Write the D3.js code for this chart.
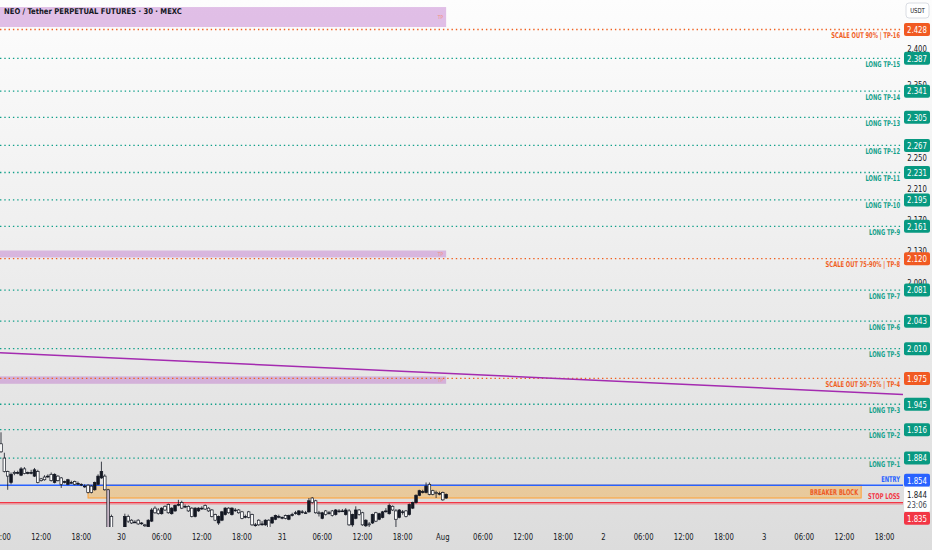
<!DOCTYPE html>
<html>
<head>
<meta charset="utf-8">
<style>
  html, body { margin: 0; padding: 0; background: #fff; }
  svg { display: block; }
  text { font-family: "DejaVu Sans Condensed", "Liberation Sans", sans-serif; }
</style>
<script src="https://cdn.jsdelivr.net/npm/d3@7"></script>
</head>
<body>
<svg id="chart" width="932" height="550"></svg>
<script>
// ---- data ----
const title = "NEO / Tether PERPETUAL FUTURES · 30 · MEXC";
const firstBar = Date.UTC(2025, 6, 29, 6, 0); // 30 min bars
const barMinutes = 30;

// open, high, low, close
const ohlc = [
  [1.900,1.913,1.890,1.891],[1.884,1.890,1.868,1.869],[1.869,1.870,1.849,1.864],[1.857,1.868,1.855,1.866],
  [1.868,1.870,1.865,1.867],[1.868,1.870,1.866,1.868],[1.865,1.874,1.864,1.872],[1.872,1.874,1.866,1.867],
  [1.867,1.869,1.866,1.868],[1.868,1.871,1.866,1.868],[1.864,1.873,1.863,1.871],[1.869,1.871,1.856,1.857],
  [1.861,1.862,1.858,1.859],[1.863,1.865,1.859,1.860],[1.864,1.866,1.862,1.864],[1.866,1.868,1.858,1.859],
  [1.857,1.867,1.856,1.866],[1.864,1.865,1.858,1.859],[1.862,1.863,1.851,1.855],[1.858,1.859,1.856,1.858],
  [1.855,1.861,1.854,1.860],[1.857,1.859,1.856,1.857],[1.858,1.859,1.854,1.855],[1.856,1.858,1.854,1.856],
  [1.855,1.856,1.853,1.855],[1.853,1.855,1.851,1.853],[1.854,1.855,1.845,1.846],[1.853,1.854,1.845,1.846],
  [1.849,1.858,1.848,1.857],[1.855,1.866,1.854,1.864],[1.862,1.880,1.861,1.869],[1.864,1.866,1.848,1.849],
  [1.849,1.850,1.804,1.808],[1.820,1.822,1.805,1.808],[1.805,1.806,1.795,1.798],[1.798,1.803,1.794,1.801],
  [1.801,1.806,1.797,1.804],[1.806,1.823,1.804,1.820],[1.820,1.822,1.813,1.815],[1.816,1.817,1.812,1.813],
  [1.814,1.816,1.813,1.814],[1.816,1.817,1.811,1.812],[1.813,1.814,1.811,1.813],[1.811,1.812,1.808,1.810],
  [1.809,1.817,1.807,1.816],[1.815,1.829,1.814,1.827],[1.829,1.831,1.823,1.824],[1.827,1.829,1.822,1.823],
  [1.823,1.830,1.822,1.829],[1.831,1.832,1.826,1.827],[1.833,1.834,1.823,1.824],[1.823,1.830,1.822,1.829],
  [1.826,1.833,1.825,1.832],[1.833,1.838,1.831,1.833],[1.835,1.837,1.828,1.829],[1.831,1.833,1.829,1.831],
  [1.831,1.832,1.825,1.826],[1.829,1.830,1.819,1.820],[1.820,1.830,1.819,1.829],[1.826,1.830,1.825,1.829],
  [1.829,1.831,1.827,1.829],[1.832,1.833,1.827,1.828],[1.829,1.830,1.825,1.826],[1.827,1.828,1.819,1.820],
  [1.822,1.823,1.815,1.816],[1.813,1.821,1.811,1.820],[1.816,1.826,1.815,1.825],[1.822,1.830,1.821,1.829],
  [1.829,1.830,1.823,1.824],[1.822,1.830,1.821,1.829],[1.827,1.829,1.825,1.827],[1.827,1.828,1.823,1.824],
  [1.825,1.826,1.817,1.818],[1.820,1.822,1.818,1.820],[1.825,1.826,1.818,1.819],[1.822,1.823,1.810,1.811],
  [1.811,1.813,1.809,1.811],[1.816,1.817,1.810,1.811],[1.812,1.815,1.810,1.812],[1.811,1.817,1.810,1.816],
  [1.816,1.817,1.806,1.807],[1.813,1.820,1.812,1.819],[1.817,1.822,1.816,1.821],[1.820,1.822,1.818,1.820],
  [1.819,1.820,1.817,1.819],[1.821,1.822,1.817,1.818],[1.817,1.822,1.816,1.821],[1.822,1.824,1.820,1.822],
  [1.824,1.826,1.822,1.824],[1.822,1.827,1.821,1.826],[1.825,1.827,1.823,1.825],[1.824,1.826,1.823,1.824],
  [1.825,1.840,1.824,1.837],[1.840,1.841,1.834,1.835],[1.837,1.838,1.823,1.824],[1.824,1.826,1.820,1.823],
  [1.818,1.825,1.817,1.824],[1.826,1.827,1.821,1.822],[1.824,1.826,1.822,1.824],[1.826,1.827,1.820,1.821],
  [1.822,1.828,1.821,1.827],[1.826,1.828,1.824,1.826],[1.826,1.828,1.825,1.826],[1.822,1.829,1.821,1.827],
  [1.826,1.828,1.810,1.811],[1.811,1.823,1.809,1.822],[1.818,1.831,1.817,1.827],[1.827,1.828,1.821,1.822],
  [1.824,1.825,1.810,1.811],[1.810,1.817,1.808,1.816],[1.812,1.814,1.808,1.811],[1.813,1.823,1.812,1.822],
  [1.824,1.825,1.814,1.815],[1.817,1.824,1.816,1.823],[1.819,1.826,1.818,1.825],[1.826,1.829,1.824,1.826],
  [1.823,1.834,1.822,1.832],[1.831,1.832,1.826,1.827],[1.826,1.828,1.807,1.817],[1.819,1.828,1.818,1.827],
  [1.825,1.827,1.822,1.825],[1.826,1.827,1.819,1.820],[1.822,1.834,1.821,1.833],[1.829,1.836,1.828,1.835],
  [1.835,1.844,1.834,1.843],[1.843,1.849,1.842,1.848],[1.847,1.849,1.845,1.847],[1.846,1.857,1.845,1.853],
  [1.855,1.857,1.843,1.844],[1.848,1.849,1.843,1.844],[1.846,1.848,1.840,1.845],[1.845,1.847,1.843,1.845],
  [1.846,1.847,1.837,1.838],[1.840,1.845,1.839,1.844]
];
const highlightBars = [32];

const levelNames = [
  "SCALE OUT 90% | TP-16", "LONG TP-15", "LONG TP-14", "LONG TP-13", "LONG TP-12", "LONG TP-11",
  "LONG TP-10", "LONG TP-9", "SCALE OUT 75-90% | TP-8", "LONG TP-7", "LONG TP-6", "LONG TP-5",
  "SCALE OUT 50-75% | TP-4", "LONG TP-3", "LONG TP-2", "LONG TP-1"
];
const levelPrices = [2.428, 2.387, 2.341, 2.305, 2.267, 2.231, 2.195, 2.161, 2.120, 2.081, 2.043, 2.010, 1.975, 1.945, 1.916, 1.884];

const entryPrice = 1.854;
const stopPrice = 1.835;
const lastPrice = 1.844;
const countdown = "23:06";

const breakerTop = 1.854, breakerBottom = 1.840;
const breakerStart = Date.UTC(2025, 6, 29, 19, 0);
const breakerEnd = Date.UTC(2025, 7, 3, 14, 30);

const zoneTops = [2.4605, 2.1303, 1.9774];
const zoneBottoms = [2.4316, 2.1216, 1.9687];
const zoneEnd = Date.UTC(2025, 7, 1, 0, 30);

const trendTimes = [Date.UTC(2025, 6, 29, 5, 51), Date.UTC(2025, 7, 3, 20, 45)];
const trendPrices = [2.0053, 1.9563];

const priceTicks = [2.400, 2.350, 2.300, 2.250, 2.210, 2.170, 2.130, 2.090, 2.050, 2.010, 1.980, 1.950, 1.920, 1.890, 1.860];
const viewStart = Date.UTC(2025, 6, 29, 5, 51);
const viewEnd = Date.UTC(2025, 7, 3, 20, 45);
const priceBottom = 1.8087, priceTop = 2.4708;

// ---- layout ----
const W = 932, H = 550;
const paneRight = 903, paneBottom = 527;
const teal = "#12a08a", orange = "#f0601f", tealBox = "#089981", orangeBox = "#f15a22";
const blue = "#2962ff", red = "#f23645", ink = "#131722";

// narrow the text horizontally around its anchor point
function squeeze(sel, sx) {
  sel.attr("transform", function () {
    const tx = +this.getAttribute("x"), ty = +this.getAttribute("y");
    return `translate(${tx},${ty}) scale(${sx},1) translate(${-tx},${-ty})`;
  });
}

const svg = d3.select("#chart");

const x = d3.scaleUtc().domain([viewStart, viewEnd]).range([0, paneRight]);
const y = d3.scaleLog().domain([priceBottom, priceTop]).range([paneBottom, 0]);

const defs = svg.append("defs");
const grad = defs.append("linearGradient").attr("id", "bg").attr("x1", 0).attr("y1", 0).attr("x2", 0).attr("y2", 1);
grad.append("stop").attr("offset", "0%").attr("stop-color", "#fdfdfd");
grad.append("stop").attr("offset", "100%").attr("stop-color", "#dcdcdc");
defs.append("clipPath").attr("id", "pane")
  .append("rect").attr("x", 0).attr("y", 0).attr("width", paneRight).attr("height", paneBottom);

svg.append("rect").attr("width", W).attr("height", H).attr("fill", "url(#bg)");

const pane = svg.append("g").attr("clip-path", "url(#pane)");

// purple zones
zoneTops.forEach((top, i) => {
  pane.append("rect")
    .attr("x", 0)
    .attr("y", y(top))
    .attr("width", x(zoneEnd))
    .attr("height", y(zoneBottoms[i]) - y(top))
    .attr("fill", "rgba(186,104,200,0.42)");
  pane.append("text")
    .attr("x", x(zoneEnd) - 3)
    .attr("y", (y(top) + y(zoneBottoms[i])) / 2 + 2)
    .attr("text-anchor", "end")
    .attr("font-size", 5)
    .attr("fill", "#f3907a")
    .text("TP");
});

// target levels
const isScale = (name) => name.startsWith("SCALE");
pane.selectAll("line.level")
  .data(levelPrices)
  .enter()
  .append("line")
  .attr("class", "level")
  .attr("x1", 0)
  .attr("x2", paneRight)
  .attr("y1", (d) => y(d))
  .attr("y2", (d) => y(d))
  .attr("stroke", (d, i) => (isScale(levelNames[i]) ? orange : teal))
  .attr("stroke-width", 1.3)
  .attr("stroke-dasharray", "1.4,2.9");

// trend line
pane.append("line")
  .attr("x1", x(trendTimes[0]))
  .attr("y1", y(trendPrices[0]))
  .attr("x2", x(trendTimes[1]))
  .attr("y2", y(trendPrices[1]))
  .attr("stroke", "#a42bb0")
  .attr("stroke-width", 1.5);

// breaker block
pane.append("rect")
  .attr("x", x(breakerStart))
  .attr("y", y(breakerTop))
  .attr("width", x(breakerEnd) - x(breakerStart))
  .attr("height", y(breakerBottom) - y(breakerTop))
  .attr("fill", "rgba(255,152,0,0.3)")
  .attr("stroke", "#ffa033")
  .attr("stroke-width", 1);
squeeze(pane.append("text")
  .attr("x", x(breakerEnd) - 3)
  .attr("y", (y(breakerTop) + y(breakerBottom)) / 2 + 3)
  .attr("text-anchor", "end")
  .attr("font-size", 8)
  .attr("font-weight", "bold")
  .attr("fill", "#ee5a24")
  .text("BREAKER BLOCK"), 0.72);

// entry / stop
pane.append("line")
  .attr("x1", 0).attr("x2", paneRight)
  .attr("y1", y(stopPrice) + 1).attr("y2", y(stopPrice) + 1)
  .attr("stroke", "rgba(242,54,69,0.25)").attr("stroke-width", 3);
pane.append("line")
  .attr("x1", 0).attr("x2", paneRight)
  .attr("y1", y(stopPrice)).attr("y2", y(stopPrice))
  .attr("stroke", red).attr("stroke-width", 1.2);
pane.append("line")
  .attr("x1", 0).attr("x2", paneRight)
  .attr("y1", y(entryPrice)).attr("y2", y(entryPrice))
  .attr("stroke", blue).attr("stroke-width", 1.5);

// candles
const bars = ohlc.map((d, i) => ({
  t: firstBar + i * barMinutes * 60000,
  o: d[0], h: d[1], l: d[2], c: d[3], i
}));
const bodyW = 2.6;
const candle = pane.selectAll("g.candle")
  .data(bars)
  .enter()
  .append("g")
  .attr("class", "candle");
candle.append("line")
  .attr("x1", (d) => x(d.t))
  .attr("x2", (d) => x(d.t))
  .attr("y1", (d) => y(d.h))
  .attr("y2", (d) => y(d.l))
  .attr("stroke", ink)
  .attr("stroke-width", 0.8);
candle.append("rect")
  .attr("x", (d) => x(d.t) - bodyW / 2)
  .attr("y", (d) => y(Math.max(d.o, d.c)))
  .attr("width", bodyW)
  .attr("height", (d) => Math.max(0.8, Math.abs(y(d.o) - y(d.c))))
  .attr("fill", (d) => (highlightBars.includes(d.i) ? "#c7b6c6" : d.c >= d.o ? ink : "#ffffff"))
  .attr("stroke", ink)
  .attr("stroke-width", 0.7);

// level texts
squeeze(svg.selectAll("text.levelName")
  .data(levelPrices)
  .enter()
  .append("text")
  .attr("class", "levelName")
  .attr("x", paneRight - 3)
  .attr("y", (d) => y(d) + 8.5)
  .attr("text-anchor", "end")
  .attr("font-size", 8)
  .attr("font-weight", "bold")
  .attr("fill", (d, i) => (isScale(levelNames[i]) ? orange : teal))
  .text((d, i) => levelNames[i]), 0.72);
squeeze(svg.append("text")
  .attr("x", paneRight - 3).attr("y", y(entryPrice) - 3.5)
  .attr("text-anchor", "end").attr("font-size", 8).attr("font-weight", "bold").attr("fill", blue)
  .text("ENTRY"), 0.72);
squeeze(svg.append("text")
  .attr("x", paneRight - 3).attr("y", y(stopPrice) - 3.5)
  .attr("text-anchor", "end").attr("font-size", 8).attr("font-weight", "bold").attr("fill", red)
  .text("STOP LOSS"), 0.72);

// title
squeeze(svg.append("text")
  .attr("x", 4).attr("y", 14)
  .attr("font-size", 8).attr("font-weight", "bold").attr("fill", ink)
  .text(title), 0.95);

// price axis ticks, the ones fully behind a price label are left out
const labelH = 13;
const labelCenters = levelPrices.concat([entryPrice, stopPrice]).map((p) => y(p));
const visibleTicks = priceTicks.filter((p) => labelCenters.every((c) => Math.abs(c - y(p)) >= 6));
squeeze(svg.selectAll("text.tick")
  .data(visibleTicks)
  .enter()
  .append("text")
  .attr("class", "tick")
  .attr("x", 917)
  .attr("y", (d) => y(d) + 3.2)
  .attr("text-anchor", "middle")
  .attr("font-size", 9)
  .attr("fill", ink)
  .text((d) => d.toFixed(3)), 0.85);

// price labels, pushed apart around the current price label
const labels = levelPrices.map((p, i) => ({
  p, fill: isScale(levelNames[i]) ? orangeBox : tealBox, top: y(p) - labelH / 2, h: labelH
}));
labels.push({ p: entryPrice, fill: blue, top: y(entryPrice) - labelH / 2, h: labelH });
labels.push({ p: stopPrice, fill: red, top: y(stopPrice) - labelH / 2, h: labelH });
const current = { p: lastPrice, fill: "#ffffff", top: y(lastPrice) - 7.5, h: 25, current: true };

const above = labels.filter((d) => d.p > lastPrice).sort((a, b) => a.p - b.p);
let limit = current.top;
above.forEach((d) => {
  if (d.top + d.h > limit) d.top = limit - d.h;
  limit = d.top;
});
const below = labels.filter((d) => d.p < lastPrice).sort((a, b) => b.p - a.p);
limit = current.top + current.h;
below.forEach((d) => {
  if (d.top < limit) d.top = limit;
  limit = d.top + d.h;
});

const allLabels = labels.concat([current]);
const lab = svg.selectAll("g.plabel")
  .data(allLabels)
  .enter()
  .append("g")
  .attr("class", "plabel");
lab.append("rect")
  .attr("x", 904)
  .attr("y", (d) => d.top)
  .attr("width", 26)
  .attr("height", (d) => d.h)
  .attr("rx", 2)
  .attr("fill", (d) => d.fill);
squeeze(lab.append("text")
  .attr("x", 917)
  .attr("y", (d) => (d.current ? y(d.p) + 3.2 : d.top + d.h / 2 + 3.3))
  .attr("text-anchor", "middle")
  .attr("font-size", 9.5)
  .attr("fill", (d) => (d.current ? ink : "#ffffff"))
  .text((d) => d.p.toFixed(3)), 0.82);
squeeze(svg.append("text")
  .attr("x", 917)
  .attr("y", y(lastPrice) + 14)
  .attr("text-anchor", "middle")
  .attr("font-size", 9)
  .attr("fill", "#434651")
  .text(countdown), 0.85);

// USDT badge
svg.append("rect")
  .attr("x", 906).attr("y", 3).attr("width", 23).attr("height", 15).attr("rx", 3)
  .attr("fill", "#ffffff").attr("stroke", "#d1d4dc").attr("stroke-width", 0.8);
squeeze(svg.append("text")
  .attr("x", 917.5).attr("y", 13.3).attr("text-anchor", "middle")
  .attr("font-size", 7).attr("fill", ink).text("USDT"), 0.85);

// time axis
const timeTicks = d3.utcHour.every(6).range(Date.UTC(2025, 6, 29, 6), Date.UTC(2025, 7, 3, 19));
const fmtTime = (d) => {
  if (d.getUTCHours() === 0) {
    return d.getUTCDate() === 1 ? d3.utcFormat("%b")(d) : String(d.getUTCDate());
  }
  return d3.utcFormat("%H:%M")(d);
};
squeeze(svg.selectAll("text.ttick")
  .data(timeTicks)
  .enter()
  .append("text")
  .attr("class", "ttick")
  .attr("x", (d) => x(d))
  .attr("y", 540.5)
  .attr("text-anchor", "middle")
  .attr("font-size", 9)
  .attr("fill", ink)
  .text(fmtTime), 0.85);
</script>
</body>
</html>
